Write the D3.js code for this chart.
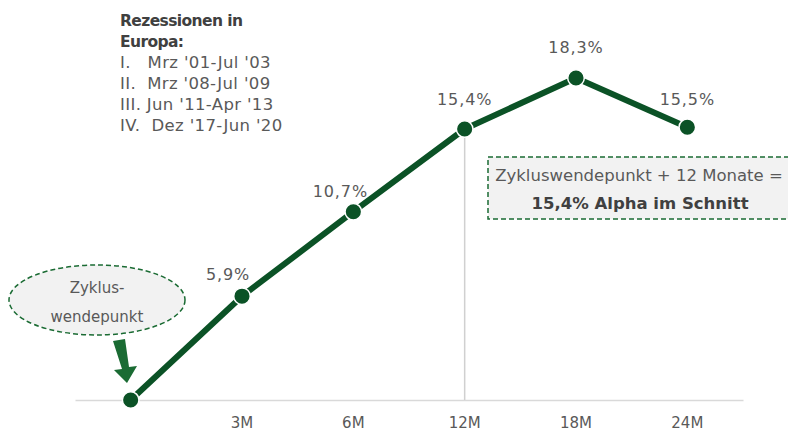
<!DOCTYPE html>
<html><head><meta charset="utf-8">
<script src="https://cdn.jsdelivr.net/npm/d3@7"></script>
<style>
html,body{margin:0;padding:0;background:#fff;}
svg{display:block;}
text{font-family:"DejaVu Sans",sans-serif;}
</style></head>
<body>
<svg id="c" width="788" height="433"></svg>
<script>
const categories = ["0", "3M", "6M", "12M", "18M", "24M"];
const tickLabels = ["", "3M", "6M", "12M", "18M", "24M"];
const alphaValues = [0, 5.9, 10.7, 15.4, 18.3, 15.5];
const valueLabels = ["", "5,9%", "10,7%", "15,4%", "18,3%", "15,5%"];
const legendTitle = ["Rezessionen in", "Europa:"];
const legendItems = ["I.\u00A0\u00A0\u00A0Mrz '01-Jul '03", "II.\u00A0\u00A0Mrz '08-Jul '09", "III. Jun '11-Apr '13", "IV.\u00A0\u00A0Dez '17-Jun '20"];
const boxLines = ["Zykluswendepunkt + 12 Monate =", "15,4% Alpha im Schnitt"];
const ellipseLines = ["Zyklus-", "wendepunkt"];

// layout (not data)
const labelDx = [0, -14, -13, 0, 0, 0];
const labelDy = [0, -16, -15, -24, -25, -22];

const svg = d3.select("#c");
const green = "#0b5226";
const arrowGreen = "#1a6b33";
const textCol = "#595959";
const FONT = '"DejaVu Sans",sans-serif';

const x = d3.scaleBand().domain(categories).range([75, 743]).padding(0);
const y = d3.scaleLinear().domain([0, 18.3]).range([400, 78]);
const cx = d => x(d) + x.bandwidth() / 2;

// axis
const axis = d3.axisBottom(x).tickFormat((d, i) => tickLabels[i]).tickSize(0).tickPadding(17);
const gAx = svg.append("g").attr("transform", `translate(0,${y(0)})`).call(axis);
gAx.select(".domain").attr("stroke", "#d9d9d9").attr("stroke-width", 1.5);
gAx.selectAll("text").attr("fill", textCol).style("font-size", "15px").style("font-family", FONT);

// vertical line at 12M
svg.append("line").attr("x1", cx("12M")).attr("x2", cx("12M"))
  .attr("y1", y(15.4)).attr("y2", y(0)).attr("stroke", "#d0d0d0").attr("stroke-width", 1.5);

// line
const line = d3.line().x((d, i) => cx(categories[i])).y(d => y(d));
svg.append("path").datum(alphaValues).attr("d", line).attr("fill", "none")
  .attr("stroke", green).attr("stroke-width", 6).attr("stroke-linejoin", "round");

svg.selectAll("circle.pt").data(alphaValues).enter().append("circle")
  .attr("class", "pt").attr("cx", (d, i) => cx(categories[i])).attr("cy", d => y(d))
  .attr("r", 8.3).attr("fill", green).attr("stroke", "#fff").attr("stroke-width", 1.5);

svg.selectAll("text.vl").data(alphaValues).enter().append("text")
  .attr("class", "vl").attr("x", (d, i) => cx(categories[i]) + labelDx[i])
  .attr("y", (d, i) => y(d) + labelDy[i]).attr("text-anchor", "middle")
  .attr("fill", textCol).style("font-size", "16px").style("letter-spacing", "0.9px")
  .text((d, i) => valueLabels[i]);

// legend
const lg = svg.append("g");
legendTitle.forEach((t, i) => lg.append("text").attr("x", 120).attr("y", 26 + i * 21)
  .attr("fill", "#404040").style("font-size", "15.5px").style("font-weight", "bold")
  .style("letter-spacing", "-0.6px").text(t));
legendItems.forEach((t, i) => lg.append("text").attr("x", 120).attr("y", 68 + i * 21)
  .attr("fill", textCol).style("font-size", "16.5px").style("letter-spacing", "0.35px").text(t));

// box
svg.append("rect").attr("x", 488).attr("y", 157).attr("width", 310).attr("height", 62)
  .attr("fill", "#f2f2f2").attr("stroke", arrowGreen).attr("stroke-width", 1.5).attr("stroke-dasharray", "5,3");
svg.append("text").attr("x", 639).attr("y", 181).attr("text-anchor", "middle").attr("fill", textCol)
  .style("font-size", "16.5px").text(boxLines[0]);
svg.append("text").attr("x", 640).attr("y", 209).attr("text-anchor", "middle").attr("fill", "#404040")
  .style("font-size", "16.5px").style("font-weight", "bold").text(boxLines[1]);

// ellipse
svg.append("ellipse").attr("cx", 97).attr("cy", 300).attr("rx", 88).attr("ry", 35)
  .attr("fill", "#f2f2f2").attr("stroke", arrowGreen).attr("stroke-width", 1.5).attr("stroke-dasharray", "5,3");
ellipseLines.forEach((t, i) => svg.append("text").attr("x", 97).attr("y", 293 + i * 29)
  .attr("text-anchor", "middle").attr("fill", textCol).style("font-size", "15px").text(t));

// arrow
svg.append("path").attr("d", "M113,341 L125,339 L129,367 L137,366 L127,383 L114,370 L122,369 Z")
  .attr("fill", arrowGreen);
</script>
</body></html>
